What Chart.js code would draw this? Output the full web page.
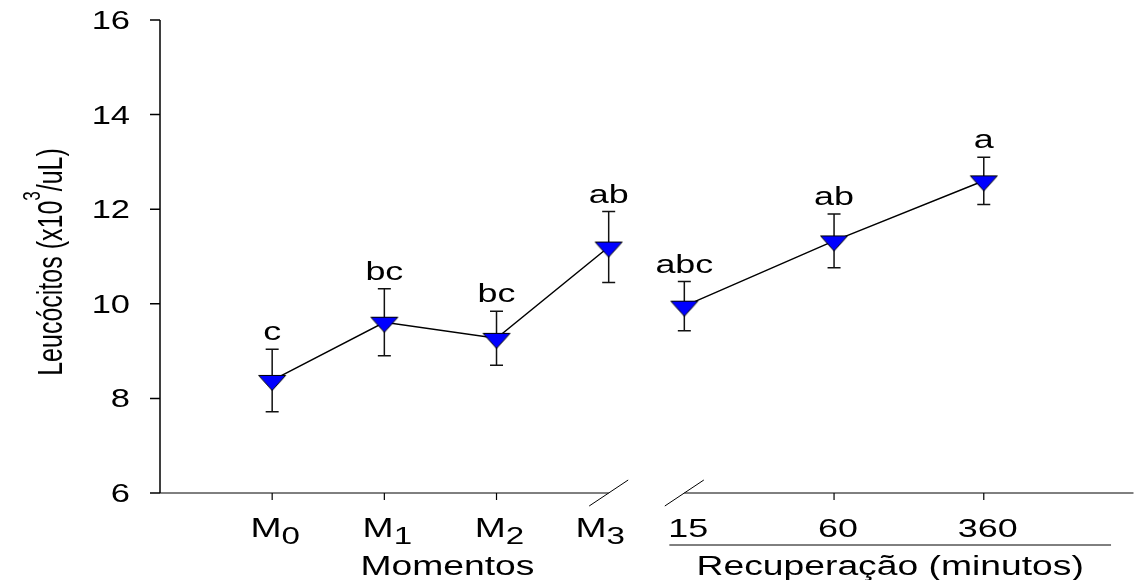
<!DOCTYPE html>
<html>
<head>
<meta charset="utf-8">
<title>Leucócitos</title>
<script src="https://cdn.jsdelivr.net/npm/chart.js@4.4.1/dist/chart.umd.min.js"></script>
<style>
  html, body { margin: 0; padding: 0; background: #ffffff; }
  #wrap { width: 1145px; height: 580px; position: relative; }
</style>
</head>
<body>
<div id="wrap"><canvas id="chart" width="1145" height="580"></canvas></div>
<script>
// ---- data ----
const momentSubscripts = ['0', '1', '2', '3'];          // M0 .. M3
const momentMeans      = [8.38, 9.61, 9.27, 11.20];
const momentErrors     = [0.66, 0.71, 0.57, 0.75];
const momentGroups     = ['c', 'bc', 'bc', 'ab'];

const recoveryLabels   = ['15', '60', '360'];           // minutes
const recoveryMeans    = [9.95, 11.33, 12.60];
const recoveryErrors   = [0.52, 0.57, 0.50];
const recoveryGroups   = ['abc', 'ab', 'a'];

const yTicks = [6, 8, 10, 12, 14, 16];

// ---- layout of the broken x axis (fractions of the plot width) ----
const LEFT_SEG_END    = 0.4609;   // where the "Momentos" segment stops
const RIGHT_SEG_START = 0.5386;   // where the "Recuperação" segment starts
const xMomMin = -1, xMomMax = -1 + 4 / LEFT_SEG_END;
const xRecMax = 3, xRecMin = -3 * RIGHT_SEG_START / (1 - RIGHT_SEG_START);

// text is drawn slightly widened horizontally
const K = 1.38;
const FONT = '"Liberation Sans", Arial, Helvetica, sans-serif';

function wideText(ctx, str, x, y, size, align) {
  ctx.save();
  ctx.translate(x, y);
  ctx.scale(K, 1);
  ctx.font = size + 'px ' + FONT;
  ctx.textAlign = align || 'center';
  ctx.textBaseline = 'alphabetic';
  ctx.fillStyle = '#000';
  ctx.fillText(str, 0, 0);
  ctx.restore();
}

function textWidth(ctx, str, size) {
  ctx.save();
  ctx.font = size + 'px ' + FONT;
  const w = ctx.measureText(str).width;
  ctx.restore();
  return w;
}

// inverted blue triangle marker, centred on its centroid
function makeMarker() {
  const w = 27, h = 15, pad = 1.5;
  const above = h / 3, below = 2 * h / 3;
  const cv = document.createElement('canvas');
  cv.width = Math.ceil(w + 2 * pad);
  cv.height = Math.ceil(2 * (below + pad));
  const cx = cv.width / 2, cy = cv.height / 2;
  const g = cv.getContext('2d');
  g.beginPath();
  g.moveTo(cx - w / 2, cy - above);
  g.lineTo(cx + w / 2, cy - above);
  g.lineTo(cx, cy + below);
  g.closePath();
  g.fillStyle = '#0000ff';
  g.fill();
  g.lineWidth = 1;
  g.strokeStyle = '#000';
  g.stroke();
  return cv;
}
const marker = makeMarker();

const errorLists = [momentErrors, recoveryErrors];
const groupLists = [momentGroups, recoveryGroups];

const decor = {
  id: 'decor',
  beforeDatasetsDraw(chart) {
    const ctx = chart.ctx, y = chart.scales.y;
    ctx.save();
    ctx.strokeStyle = '#111';
    ctx.lineWidth = 1.5;
    chart.data.datasets.forEach((ds, di) => {
      const meta = chart.getDatasetMeta(di);
      meta.data.forEach((pt, i) => {
        const v = ds.data[i].y, e = errorLists[di][i];
        const top = y.getPixelForValue(v + e), bot = y.getPixelForValue(v - e);
        ctx.beginPath();
        ctx.moveTo(pt.x, top); ctx.lineTo(pt.x, bot);
        ctx.moveTo(pt.x - 6.5, top); ctx.lineTo(pt.x + 6.5, top);
        ctx.moveTo(pt.x - 6.5, bot); ctx.lineTo(pt.x + 6.5, bot);
        ctx.stroke();
      });
    });
    ctx.restore();
  },
  afterDatasetsDraw(chart) {
    const ctx = chart.ctx, area = chart.chartArea;
    const y = chart.scales.y, xm = chart.scales.xM, xr = chart.scales.xR;
    const base = y.getPixelForValue(6);

    ctx.save();
    // y axis
    ctx.strokeStyle = '#000';
    ctx.lineWidth = 1.5;
    ctx.beginPath();
    ctx.moveTo(area.left, y.getPixelForValue(16));
    ctx.lineTo(area.left, base);
    yTicks.forEach(t => {
      const py = y.getPixelForValue(t);
      ctx.moveTo(area.left - 10, py);
      ctx.lineTo(area.left, py);
    });
    ctx.stroke();
    yTicks.forEach(t => {
      wideText(ctx, String(t), 130, y.getPixelForValue(t) + 9, 25, 'right');
    });

    // x axis, two segments
    const leftEnd = xm.getPixelForValue(3);
    const rightStart = xr.getPixelForValue(0);
    const rightEnd = xr.getPixelForValue(3);
    ctx.lineWidth = 1;
    ctx.strokeStyle = '#000';
    ctx.beginPath();
    ctx.moveTo(area.left, base); ctx.lineTo(leftEnd, base);
    ctx.moveTo(rightStart, base); ctx.lineTo(rightEnd, base);
    ctx.stroke();

    // ticks
    ctx.lineWidth = 1.2;
    ctx.beginPath();
    [0, 1, 2].forEach(i => {
      const px = xm.getPixelForValue(i);
      ctx.moveTo(px, base); ctx.lineTo(px, base + 7);
    });
    [1, 2].forEach(i => {
      const px = xr.getPixelForValue(i);
      ctx.moveTo(px, base); ctx.lineTo(px, base + 7);
    });
    ctx.stroke();

    // break marks
    ctx.lineWidth = 1;
    ctx.beginPath();
    [leftEnd, rightStart].forEach(px => {
      ctx.moveTo(px - 19.5, base + 13);
      ctx.lineTo(px + 19.5, base - 13);
    });
    ctx.stroke();

    // moment labels M with subscript
    momentSubscripts.forEach((s, i) => {
      const wM = textWidth(ctx, 'M', 27) * K;
      const wS = textWidth(ctx, s, 24) * K;
      let cx = xm.getPixelForValue(i) + 3;
      if (i === momentSubscripts.length - 1) cx -= 11.5;   // keep clear of the break mark
      const start = cx - (wM + wS) / 2;
      wideText(ctx, 'M', start, 537, 27, 'left');
      wideText(ctx, s, start + wM, 544, 24, 'left');
    });
    recoveryLabels.forEach((s, i) => {
      wideText(ctx, s, xr.getPixelForValue(i) + 4, 537, 26, 'center');
    });

    // axis titles
    const momCenter = (xm.getPixelForValue(0) + xm.getPixelForValue(3)) / 2 + 7;
    wideText(ctx, 'Momentos', momCenter, 575, 27, 'center');

    const ulStart = xr.getPixelForValue(-0.1), ulEnd = xr.getPixelForValue(2.85);
    ctx.lineWidth = 1;
    ctx.beginPath();
    ctx.moveTo(ulStart, 545); ctx.lineTo(ulEnd, 545);
    ctx.stroke();
    wideText(ctx, 'Recuperação (minutos)', (ulStart + ulEnd) / 2, 575, 27, 'center');

    // y title, rotated, with superscript
    const p1 = 'Leucócitos (x10', p2 = '3', p3 = '/uL)';
    const w1 = textWidth(ctx, p1, 25), w2 = textWidth(ctx, p2, 17), w3 = textWidth(ctx, p3, 25);
    const total = w1 + w2 + w3;
    const midY = 262;
    ctx.save();
    ctx.translate(62, midY + total / 2);
    ctx.scale(K, 1);
    ctx.rotate(-Math.PI / 2);
    ctx.fillStyle = '#000';
    ctx.textAlign = 'left';
    ctx.textBaseline = 'alphabetic';
    ctx.font = '25px ' + FONT;
    ctx.fillText(p1, 0, 0);
    ctx.font = '17px ' + FONT;
    ctx.fillText(p2, w1, -16);
    ctx.font = '25px ' + FONT;
    ctx.fillText(p3, w1 + w2, 0);
    ctx.restore();

    // significance letters above error bars
    chart.data.datasets.forEach((ds, di) => {
      const meta = chart.getDatasetMeta(di);
      meta.data.forEach((pt, i) => {
        const topPx = y.getPixelForValue(ds.data[i].y + errorLists[di][i]);
        wideText(ctx, groupLists[di][i], pt.x, topPx - 9, 26, 'center');
      });
    });
    ctx.restore();
  }
};

const lineStyle = {
  borderColor: '#000',
  borderWidth: 1.5,
  pointStyle: marker,
  pointRadius: 10,
  pointHoverRadius: 10,
  fill: false,
  tension: 0,
  yAxisID: 'y'
};

new Chart(document.getElementById('chart'), {
  type: 'line',
  data: {
    datasets: [
      Object.assign({
        label: 'Momentos',
        xAxisID: 'xM',
        data: momentMeans.map((v, i) => ({ x: i, y: v }))
      }, lineStyle),
      Object.assign({
        label: 'Recuperação',
        xAxisID: 'xR',
        data: recoveryMeans.map((v, i) => ({ x: i, y: v }))
      }, lineStyle)
    ]
  },
  options: {
    responsive: false,
    animation: false,
    events: [],
    layout: { padding: { left: 160, right: 1, top: 20, bottom: 87 } },
    plugins: { legend: { display: false }, tooltip: { enabled: false } },
    scales: {
      xM: { type: 'linear', position: 'bottom', min: xMomMin, max: xMomMax, display: false },
      xR: { type: 'linear', position: 'bottom', min: xRecMin, max: xRecMax, display: false },
      y:  { type: 'linear', position: 'left', min: 6, max: 16, display: false }
    }
  },
  plugins: [decor]
});
</script>
</body>
</html>
